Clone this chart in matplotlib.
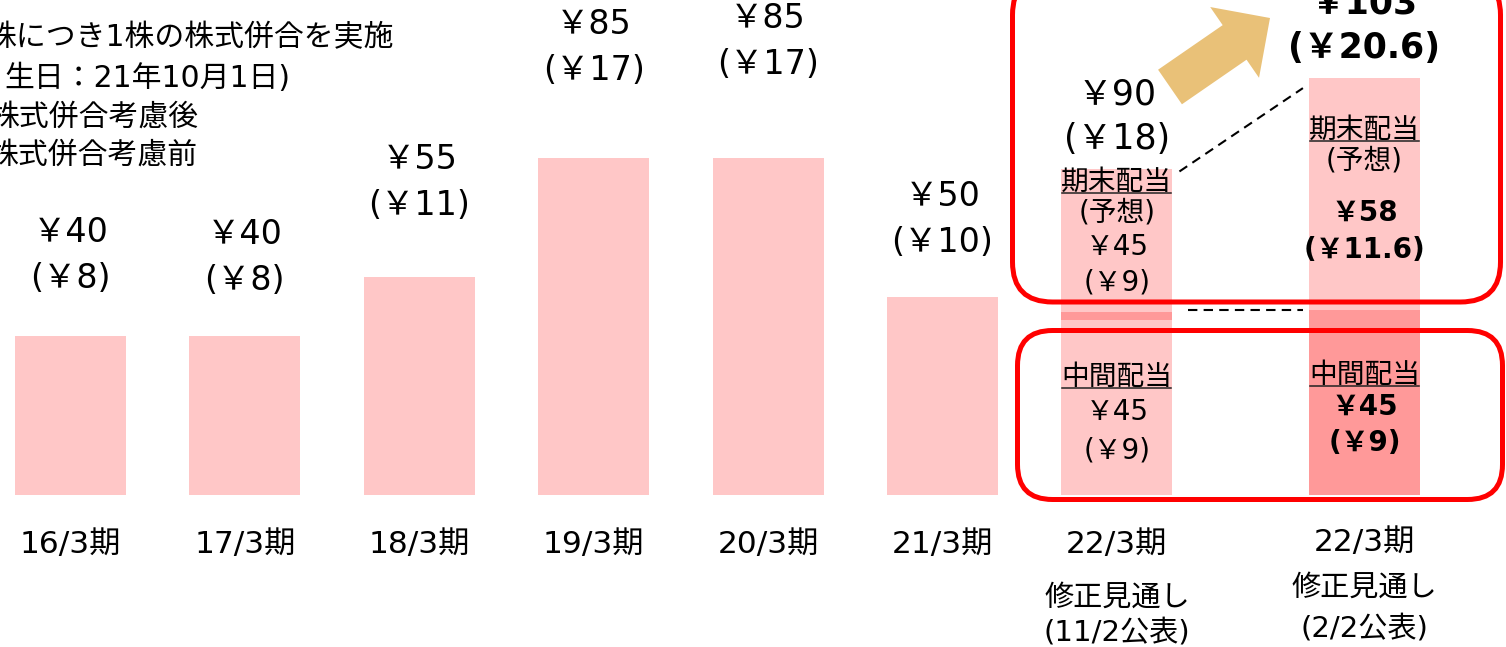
import numpy as np
import matplotlib
matplotlib.use("Agg")
import matplotlib.pyplot as plt
from matplotlib.patches import FancyBboxPatch, FancyArrow
from matplotlib.lines import Line2D
from matplotlib.transforms import blended_transform_factory

# 欧文は幅広の DejaVu、和文は Noto にフォールバック
plt.rcParams['font.family'] = ['DejaVu Sans', 'Noto Sans CJK JP']

# 実績（株式併合考慮後 / 考慮前）
periods = ['16/3期', '17/3期', '18/3期', '19/3期', '20/3期', '21/3期']
div_after = [40, 40, 55, 85, 85, 50]
div_before = [8, 8, 11, 17, 17, 10]

# 22/3期 修正見通し（11/2公表, 2/2公表）
fc_period = ['22/3期', '22/3期']
fc_note = ['修正見通し', '修正見通し']
fc_release = ['(11/2公表)', '(2/2公表)']
interim_after = [45, 45]
interim_before = [9, 9]
yearend_after = [45, 58]
yearend_before = ['9', '11.6']
total_after = [90, 103]
total_before = ['18', '20.6']
# 棒の高さは元資料の描画どおり（11/2公表分の期末部分は縮めて描かれている）
interim_drawn = [45, 46.5]
yearend_drawn = [37, 58.5]

PINK = '#FFC7C7'
PINK_DARK = '#FF9999'
RED = '#FF0000'
GOLD = '#E9C178'

fig = plt.figure(figsize=(15.06, 6.47), dpi=100)
ax = fig.add_axes([0, 0, 1, 1])
ax.set_xlim(-0.404, 8.231)
ax.set_ylim(-38.3, 124.7)
ax.axis('off')

# pixel overlay (y from top) for callouts
ov = fig.add_axes([0, 0, 1, 1], zorder=3)
ov.set_xlim(0, 1506)
ov.set_ylim(647, 0)
ov.axis('off')
ov.patch.set_alpha(0)
bt = blended_transform_factory(ax.transData, ov.transData)

x_hist = np.arange(len(periods))
x_fc = np.array([6, 7.42])
w = 0.637

# historical bars
ax.bar(x_hist, div_after, width=w, color=PINK, zorder=1)

# label gaps above bar tops (px), as placed on the slide
gap_px = [58, 56, 71, 87, 93, 54]
for xi, p, a, b, g in zip(x_hist, periods, div_after, div_before, gap_px):
    ax.annotate(f'￥{a}', (xi, a), xytext=(0, g + 46), textcoords='offset pixels',
                ha='center', va='center', fontsize=24)
    ax.annotate(f'(￥{b})', (xi, a), xytext=(0, g), textcoords='offset pixels',
                ha='center', va='center', fontsize=24)
    ax.text(xi, 545, p, transform=bt, ha='center', va='center', fontsize=22.5)

# forecast bars
ax.bar(x_fc[0], interim_drawn[0], width=w, color=PINK, zorder=1)
ax.bar(x_fc[0], yearend_drawn[0], bottom=interim_drawn[0], width=w, color=PINK, zorder=1)
ax.bar(x_fc[0], 2, bottom=interim_drawn[0] - 1, width=w, color=PINK_DARK, zorder=2)
ax.bar(x_fc[1], interim_drawn[1], width=w, color=PINK_DARK, zorder=1)
ax.bar(x_fc[1], yearend_drawn[1], bottom=interim_drawn[1], width=w, color=PINK, zorder=1)

tops = [interim_drawn[i] + yearend_drawn[i] for i in range(2)]
for i in range(2):
    ax.annotate(f'￥{total_after[i]}', (x_fc[i], tops[i]), xytext=(0, 75),
                textcoords='offset pixels', ha='center', va='center', fontsize=25,
                fontweight='bold' if i else 'normal')
    ax.annotate(f'(￥{total_before[i]})', (x_fc[i], tops[i]), xytext=(0, 30),
                textcoords='offset pixels', ha='center', va='center', fontsize=25,
                fontweight='bold' if i else 'normal')

underlined = []
# in-bar texts: (text, y px, bold, underline)
inbar = [
    [('期末配当', 182, False, True), ('(予想)', 212, False, False),
     (f'￥{yearend_after[0]}', 247, False, False), (f'(￥{yearend_before[0]})', 283, False, False),
     ('中間配当', 377, False, True), (f'￥{interim_after[0]}', 412, False, False),
     (f'(￥{interim_before[0]})', 450, False, False)],
    [('期末配当', 130, False, True), ('(予想)', 160, False, False),
     (f'￥{yearend_after[1]}', 213, True, False), (f'(￥{yearend_before[1]})', 250, True, False),
     ('中間配当', 375, False, True), (f'￥{interim_after[1]}', 407, True, False),
     (f'(￥{interim_before[1]})', 443, True, False)],
]
for i in range(2):
    for s, ypx, bold, ul in inbar[i]:
        t = ax.text(x_fc[i], ypx, s, transform=bt, ha='center', va='center',
                    fontsize=20, fontweight='bold' if bold else 'normal', zorder=4)
        if ul:
            underlined.append(t)

# bottom labels
lab_y = [(545, 598, 632), (542, 588, 628)]
for i in range(2):
    ax.text(x_fc[i], lab_y[i][0], fc_period[i], transform=bt, ha='center', va='center', fontsize=22.5)
    ax.text(x_fc[i], lab_y[i][1], fc_note[i], transform=bt, ha='center', va='center', fontsize=21)
    ax.text(x_fc[i], lab_y[i][2], fc_release[i], transform=bt, ha='center', va='center', fontsize=21)

# dashed connectors
ax.plot([x_fc[0] + w / 2 + 0.04, x_fc[1] - w / 2 - 0.035], [tops[0] - 0.5, tops[1] - 2.5],
        color='black', lw=1.5, ls=(0, (4.5, 3)), zorder=3)
ax.plot([x_fc[0] + w / 2 + 0.09, x_fc[1] - w / 2 - 0.035], [interim_drawn[1]] * 2,
        color='black', lw=1.5, ls=(0, (4.5, 3)), zorder=3)

# red boxes
ov.add_patch(FancyBboxPatch((1012.5, -25), 488, 327, boxstyle='round,pad=0,rounding_size=40',
                            fc='none', ec=RED, lw=3.6, zorder=5))
ov.add_patch(FancyBboxPatch((1017.5, 330.5), 485, 169, boxstyle='round,pad=0,rounding_size=35',
                            fc='none', ec=RED, lw=3.6, zorder=5))

# arrow
ov.add_patch(FancyArrow(1170, 87, 100, -69, width=42, head_width=86, head_length=43,
                        length_includes_head=True, color=GOLD, lw=0, zorder=2))

# note (cut at left edge of the slide)
notes = [('株につき1株の株式併合を実施', 393, 38), ('生日：21年10月1日)', 290, 78),
         ('株式併合考慮後', 198, 117), ('株式併合考慮前', 197, 155)]
for s, xr, ypx in notes:
    ov.text(xr, ypx, s, ha='right', va='center', fontsize=21.5)

fig.canvas.draw()
r = fig.canvas.get_renderer()
for t in underlined:
    bb = t.get_window_extent(r)
    fig.add_artist(Line2D([bb.x0 + 1, bb.x1 - 1], [bb.y0 + 3, bb.y0 + 3], color='#222222',
                          lw=1.1, transform=None))

fig.savefig('out.png', dpi=100)
